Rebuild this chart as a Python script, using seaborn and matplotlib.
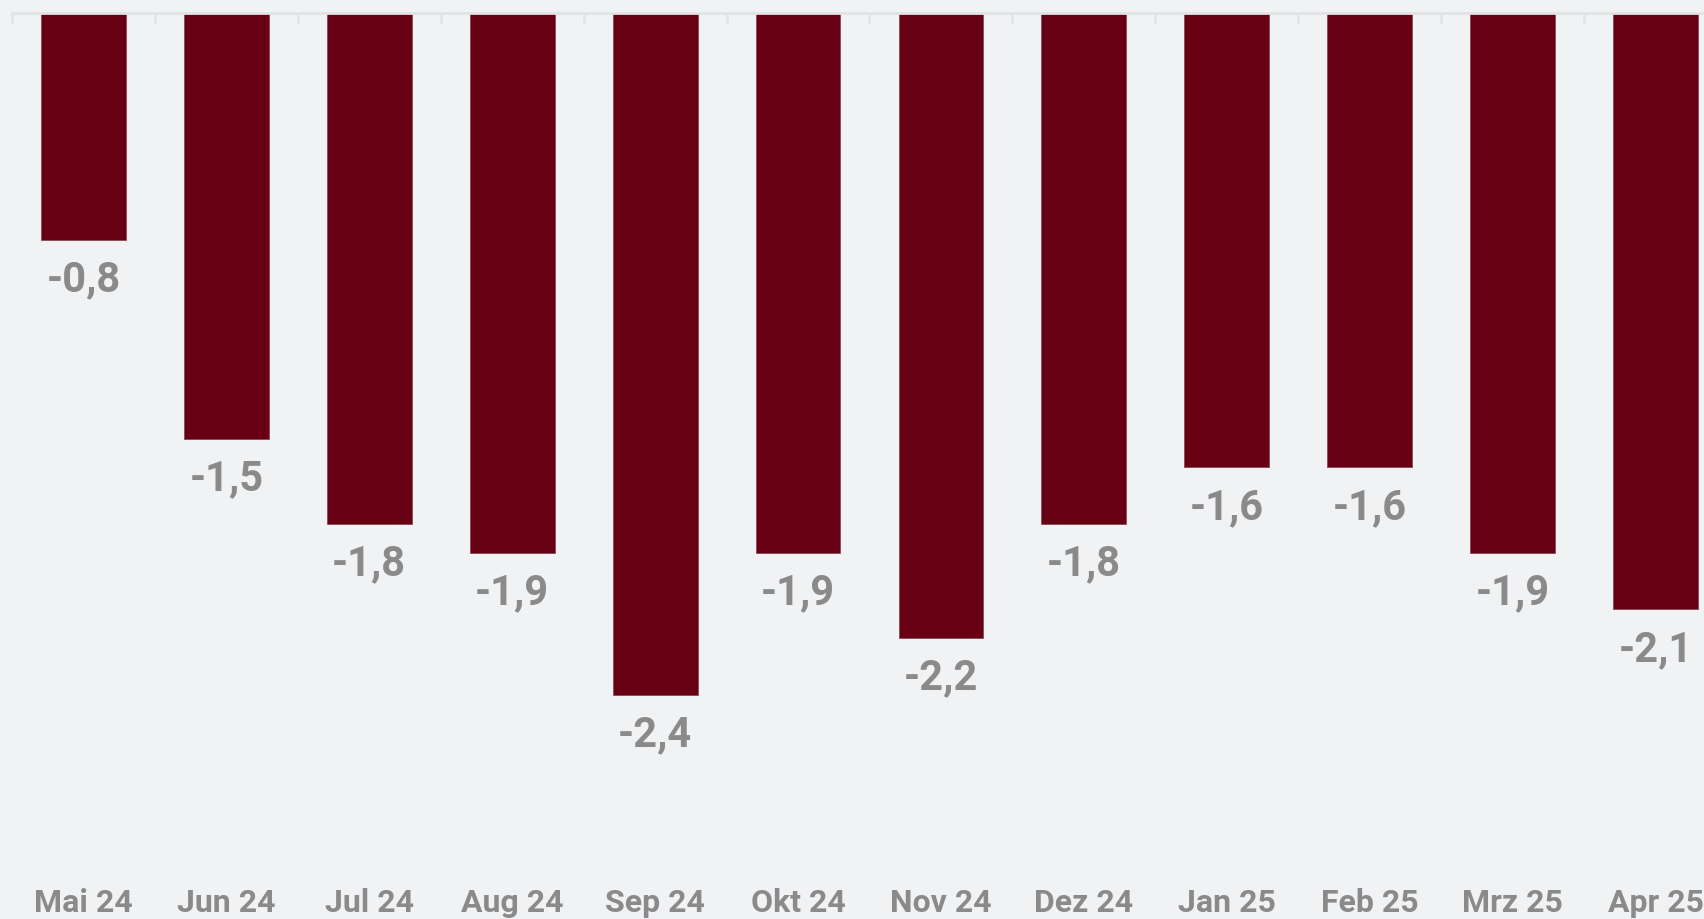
import matplotlib
matplotlib.use("Agg")
import matplotlib.pyplot as plt
import seaborn as sns
import pandas as pd

months = ["Mai 24", "Jun 24", "Jul 24", "Aug 24", "Sep 24", "Okt 24",
          "Nov 24", "Dez 24", "Jan 25", "Feb 25", "Mrz 25", "Apr 25"]
values = [-0.8, -1.5, -1.8, -1.9, -2.4, -1.9, -2.2, -1.8, -1.6, -1.6, -1.9, -2.1]

BG = "#f1f2f4"
BAR = "#660012"
TXT = "#8a8a8a"

sns.set_theme(style="white")
plt.rcParams["font.family"] = ["Roboto", "DejaVu Sans"]

W, H = 1704, 919
fig = plt.figure(figsize=(W / 100, H / 100), dpi=100, facecolor=BG)
left_px, right_px, top_px, bottom_px = 12, 1727, 13.0, 880
ax = fig.add_axes([left_px / W, 1 - bottom_px / H, (right_px - left_px) / W,
                   (bottom_px - top_px) / H])
ax.set_facecolor(BG)

df = pd.DataFrame({"month": months, "value": values})
sns.barplot(data=df, x="month", y="value", color=BAR, saturation=1,
            width=0.594, edgecolor="#8a4a55", linewidth=0.6, ax=ax)

ax.set_xlim(-0.5, len(months) - 0.5)
ax.set_ylim(-(bottom_px - top_px) / 284.0, 0)

for s in ["left", "right", "bottom"]:
    ax.spines[s].set_visible(False)
ax.spines["top"].set_color("#e2e3e5")
ax.spines["top"].set_linewidth(2)

ax.set_yticks([])
ax.set_xlabel("")
ax.set_ylabel("")
ax.tick_params(axis="x", which="major", length=0, pad=6, labelsize=23,
               labelcolor=TXT)
for lab in ax.get_xticklabels():
    lab.set_fontweight("bold")

# boundary ticks on the zero line
ax.set_xticks([i - 0.5 for i in range(len(months) + 1)], minor=True)
ax.tick_params(axis="x", which="minor", top=True, bottom=False, direction="in",
               length=7.5, width=2, color="#e2e3e5")

for i, v in enumerate(values):
    ax.annotate(f"{v:.1f}".replace(".", ","), xy=(i, v), xytext=(0, -14),
                textcoords="offset points", ha="center", va="top",
                fontsize=30, fontweight="bold", color=TXT)

fig.savefig("out.png", dpi=100, facecolor=BG)
